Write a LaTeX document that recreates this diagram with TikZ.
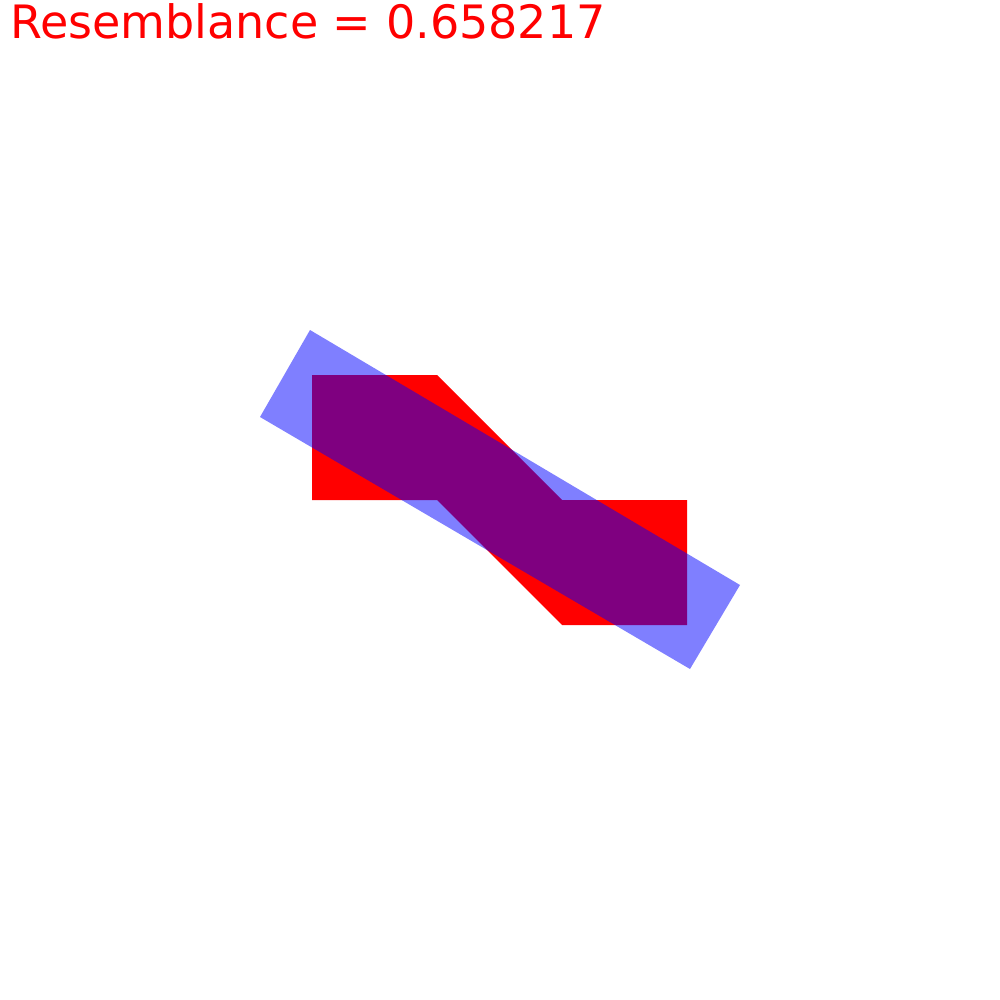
\documentclass[tikz,border=0pt]{standalone}
\usepackage{fontspec}
\setmainfont{DejaVu Sans}
\usepackage{tikz}
\usetikzlibrary{positioning}

\begin{document}
\begin{tikzpicture}[x=1pt, y=-1pt,
    redshape/.style={fill=red, draw=none},
    blueshape/.style={fill=blue, fill opacity=0.5, draw=none},
    score/.style={anchor=base west, inner sep=0pt, text=red, font=\fontsize{46}{50}\selectfont}]
    \useasboundingbox (0,0) rectangle (1000,1000);
    \node[score] (title) at (10,39) {Resemblance = 0.658217};
    \fill[redshape] (312,375) -- (437,375) -- (562,500) -- (687,500) -- (687,625)
        -- (562,625) -- (437,500) -- (312,500) -- cycle;
    \fill[blueshape] (310,330) -- (740,585) -- (690,669) -- (260,417) -- cycle;
  \end{tikzpicture}
\end{document}
